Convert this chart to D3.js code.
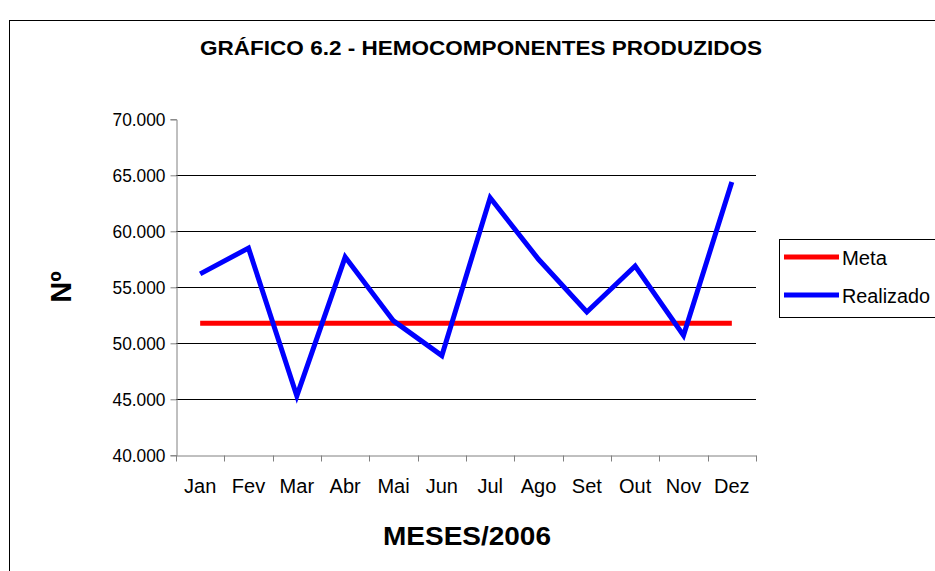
<!DOCTYPE html>
<html><head><meta charset="utf-8">
<script src="https://cdn.jsdelivr.net/npm/d3@7"></script>
<style>body{margin:0;background:#fff}svg{display:block;font-family:"Liberation Sans",Arial,sans-serif}</style>
</head><body><svg id="c" width="935" height="571"></svg>
<script>
const months = ["Jan","Fev","Mar","Abr","Mai","Jun","Jul","Ago","Set","Out","Nov","Dez"];
const meta = [51800,51800,51800,51800,51800,51800,51800,51800,51800,51800,51800,51800];
const realizado = [56200,58500,45300,57700,52000,48900,63000,57500,52800,56900,50700,64400];
const yTicks = [40000,45000,50000,55000,60000,65000,70000];

const FF = "Liberation Sans, Arial, sans-serif";
const svg = d3.select("#c");
const m = {l:176, r:756, t:119.3, b:455.3};
svg.append("rect").attr("x",9.5).attr("y",20.5).attr("width",940).attr("height",560)
  .attr("fill","#fff").attr("stroke","#000").attr("stroke-width",1);

const x = d3.scaleBand().domain(months).range([m.l, m.r]);
const y = d3.scaleLinear().domain([40000,70000]).range([m.b, m.t]);

// gridlines
svg.append("g").selectAll("line").data(yTicks.slice(1,-1)).join("line")
  .attr("x1",m.l).attr("x2",m.r).attr("y1",d=>Math.round(y(d))+0.5).attr("y2",d=>Math.round(y(d))+0.5)
  .attr("stroke","#000").attr("stroke-width",1);

// y axis
const ya = svg.append("g").attr("transform",`translate(${m.l+0.5},0)`)
  .call(d3.axisLeft(y).tickValues(yTicks).tickSize(6).tickPadding(5).tickFormat(d=>d3.format(".3f")(d/1000)));
ya.select(".domain").attr("stroke","#808080");
ya.selectAll(".tick line").attr("stroke","#808080");
ya.selectAll("text").attr("font-size",18).attr("fill","#000").attr("font-family",FF)
  .attr("textLength",53).attr("lengthAdjust","spacingAndGlyphs");

// x axis
const xa = svg.append("g").attr("transform",`translate(0,${Math.round(m.b)+0.5})`)
  .call(d3.axisBottom(x).tickSize(0).tickPadding(23));
xa.select(".domain").attr("stroke","#808080");
xa.selectAll("text").attr("font-size",20).attr("fill","#000").attr("font-family",FF);
xa.selectAll("line.bt").data(d3.range(months.length+1)).join("line").attr("class","bt")
  .attr("x1",i=>Math.round(m.l + i*x.step())+0.5).attr("x2",i=>Math.round(m.l + i*x.step())+0.5)
  .attr("y1",0).attr("y2",6).attr("stroke","#808080");

const line = d3.line().x((d,i)=>x(months[i])+x.bandwidth()/2).y(d=>y(d));
svg.append("path").datum(meta).attr("d",line).attr("fill","none").attr("stroke","#ff0000").attr("stroke-width",5);
svg.append("path").datum(realizado).attr("d",line).attr("fill","none").attr("stroke","#0000ff").attr("stroke-width",5).attr("stroke-linejoin","miter");

// titles
svg.append("text").attr("x",481).attr("y",55).attr("text-anchor","middle").attr("font-weight","bold")
  .attr("font-size",20).attr("textLength",562).attr("lengthAdjust","spacingAndGlyphs").text("GRÁFICO 6.2 - HEMOCOMPONENTES PRODUZIDOS");
svg.append("text").attr("x",467).attr("y",545).attr("text-anchor","middle").attr("font-weight","bold")
  .attr("font-size",26).attr("textLength",168).attr("lengthAdjust","spacingAndGlyphs").text("MESES/2006");
svg.append("text").attr("transform","translate(71,287) rotate(-90)").attr("text-anchor","middle").attr("font-weight","bold")
  .attr("font-size",29).text("Nº");

// legend
const lg = svg.append("g");
lg.append("rect").attr("x",779.5).attr("y",239.5).attr("width",170).attr("height",78).attr("fill","#fff").attr("stroke","#000");
const items = [["Meta","#ff0000",257],["Realizado","#0000ff",295]];
items.forEach(([t,c,yy])=>{
  lg.append("line").attr("x1",784).attr("x2",839).attr("y1",yy).attr("y2",yy).attr("stroke",c).attr("stroke-width",5);
  lg.append("text").attr("x",842).attr("y",yy+8).attr("font-size",20).attr("textLength",t==="Meta"?45:88).attr("lengthAdjust","spacingAndGlyphs").text(t);
});
</script></body></html>
